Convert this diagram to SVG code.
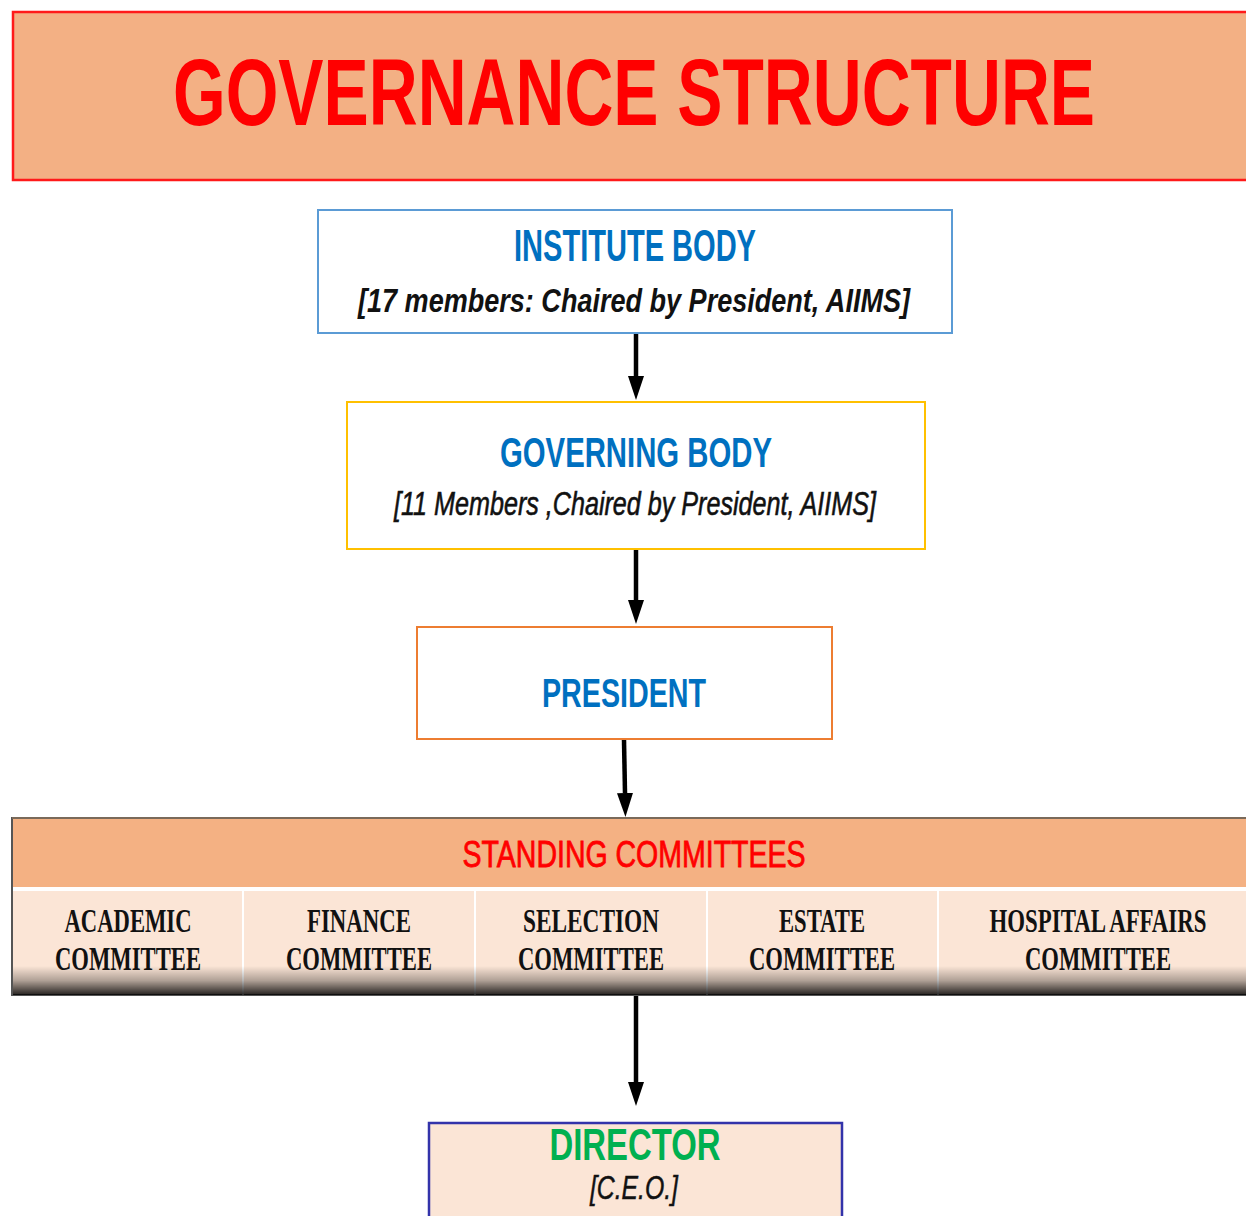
<svg xmlns="http://www.w3.org/2000/svg" width="1246" height="1216" viewBox="0 0 1246 1216">
<style>
.sans{font-family:"Liberation Sans",Arial,sans-serif;}
.serif{font-family:"Liberation Serif","Times New Roman",serif;font-weight:bold;fill:#111;font-size:34px;}
.head{font-weight:bold;fill:#0070C0;}
.sub{font-style:italic;fill:#111;}
.conn{stroke:#000;stroke-width:4.5;fill:none;}
</style>
<defs>
<marker id="ah" viewBox="0 0 24 16" refX="0" refY="8" markerWidth="24" markerHeight="16" markerUnits="userSpaceOnUse" orient="auto">
<path d="M0,0 L24,8 L0,16 z" fill="#000"/>
</marker>
<linearGradient id="shade" x1="0" y1="0" x2="0" y2="1">
<stop offset="0" stop-color="#000" stop-opacity="0"/>
<stop offset="0.5" stop-color="#000" stop-opacity="0.3"/>
<stop offset="1" stop-color="#000" stop-opacity="0.85"/>
</linearGradient>
</defs>
<rect width="1246" height="1216" fill="#fff"/>

<g id="title">
<rect x="13" y="12" width="1240" height="168" fill="#F3B084" stroke="#FF1A1A" stroke-width="2.5"/>
<text class="sans" x="634" y="125" text-anchor="middle" font-size="95" font-weight="bold" fill="#FF0000" textLength="922" lengthAdjust="spacingAndGlyphs">GOVERNANCE STRUCTURE</text>
</g>

<g id="institute-body">
<rect x="318" y="210" width="634" height="123" fill="#fff" stroke="#5B9BD5" stroke-width="2"/>
<text class="sans head" x="635" y="261" text-anchor="middle" font-size="44" textLength="242" lengthAdjust="spacingAndGlyphs">INSTITUTE BODY</text>
<text class="sans sub" x="634" y="312" text-anchor="middle" font-size="33" font-weight="bold" textLength="552" lengthAdjust="spacingAndGlyphs">[17 members: Chaired by President, AIIMS]</text>
</g>

<g id="governing-body">
<rect x="347" y="402" width="578" height="147" fill="#fff" stroke="#FFC000" stroke-width="2"/>
<text class="sans head" x="636" y="467" text-anchor="middle" font-size="43" textLength="272" lengthAdjust="spacingAndGlyphs">GOVERNING BODY</text>
<text class="sans sub" x="635" y="515" text-anchor="middle" font-size="33" stroke="#111" stroke-width="0.6" textLength="482" lengthAdjust="spacingAndGlyphs">[11 Members ,Chaired by President, AIIMS]</text>
</g>

<g id="president">
<rect x="417" y="627" width="415" height="112" fill="#fff" stroke="#ED7D31" stroke-width="2"/>
<text class="sans head" x="624" y="707" text-anchor="middle" font-size="40" textLength="164" lengthAdjust="spacingAndGlyphs">PRESIDENT</text>
</g>

<g id="standing-committees">
<rect x="12" y="818" width="1240" height="177" fill="#FBE5D6" stroke="#555" stroke-width="2"/>
<rect x="13" y="819" width="1240" height="68" fill="#F4B183"/>
<rect x="13" y="887" width="1240" height="4" fill="#fff"/>
<g stroke="#fff" stroke-width="2">
<line x1="243" y1="891" x2="243" y2="995"/>
<line x1="475" y1="891" x2="475" y2="995"/>
<line x1="707" y1="891" x2="707" y2="995"/>
<line x1="938" y1="891" x2="938" y2="995"/>
</g>
<rect x="13" y="966" width="1240" height="29" fill="url(#shade)"/>
<line x1="12" y1="818" x2="1246" y2="818" stroke="#7a6a5a" stroke-width="2"/>
<text class="sans" x="634" y="867" text-anchor="middle" font-size="37" fill="#FF0000" stroke="#FF0000" stroke-width="0.8" textLength="343" lengthAdjust="spacingAndGlyphs">STANDING COMMITTEES</text>
<g id="academic-committee">
<text class="serif" x="128" y="932" text-anchor="middle" textLength="127" lengthAdjust="spacingAndGlyphs">ACADEMIC</text>
<text class="serif" x="128" y="970" text-anchor="middle" textLength="146" lengthAdjust="spacingAndGlyphs">COMMITTEE</text>
</g>
<g id="finance-committee">
<text class="serif" x="359" y="932" text-anchor="middle" textLength="104" lengthAdjust="spacingAndGlyphs">FINANCE</text>
<text class="serif" x="359" y="970" text-anchor="middle" textLength="146" lengthAdjust="spacingAndGlyphs">COMMITTEE</text>
</g>
<g id="selection-committee">
<text class="serif" x="591" y="932" text-anchor="middle" textLength="136" lengthAdjust="spacingAndGlyphs">SELECTION</text>
<text class="serif" x="591" y="970" text-anchor="middle" textLength="146" lengthAdjust="spacingAndGlyphs">COMMITTEE</text>
</g>
<g id="estate-committee">
<text class="serif" x="822" y="932" text-anchor="middle" textLength="86" lengthAdjust="spacingAndGlyphs">ESTATE</text>
<text class="serif" x="822" y="970" text-anchor="middle" textLength="146" lengthAdjust="spacingAndGlyphs">COMMITTEE</text>
</g>
<g id="hospital-affairs-committee">
<text class="serif" x="1098" y="932" text-anchor="middle" textLength="217" lengthAdjust="spacingAndGlyphs">HOSPITAL AFFAIRS</text>
<text class="serif" x="1098" y="970" text-anchor="middle" textLength="146" lengthAdjust="spacingAndGlyphs">COMMITTEE</text>
</g>
</g>

<g id="director">
<rect x="429" y="1123" width="413" height="100" fill="#FBE5D6" stroke="#3333AA" stroke-width="2.5"/>
<text class="sans" x="635" y="1160" text-anchor="middle" font-size="44" font-weight="bold" fill="#00B050" textLength="171" lengthAdjust="spacingAndGlyphs">DIRECTOR</text>
<text class="sans sub" x="634" y="1199" text-anchor="middle" font-size="33" stroke="#111" stroke-width="0.5" textLength="88" lengthAdjust="spacingAndGlyphs">[C.E.O.]</text>
</g>

<g id="connectors">
<line class="conn" x1="636" y1="334" x2="636" y2="376" marker-end="url(#ah)"/>
<line class="conn" x1="636" y1="550" x2="636" y2="600" marker-end="url(#ah)"/>
<line class="conn" x1="624" y1="740" x2="625" y2="793" marker-end="url(#ah)"/>
<line class="conn" x1="636" y1="996" x2="636" y2="1082" marker-end="url(#ah)"/>
</g>
</svg>
